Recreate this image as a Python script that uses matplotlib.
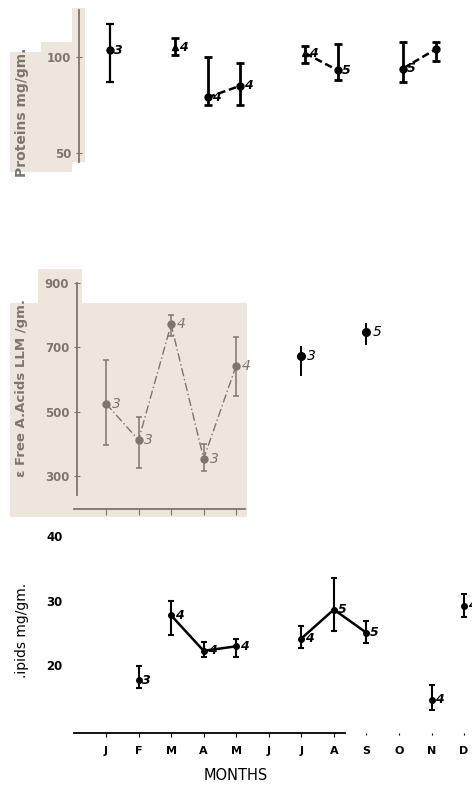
import matplotlib.pyplot as plt
from matplotlib.patches import Rectangle

W, H = 472, 789
STEP = 32.55  # px between months
BEIGE = '#ece6dd'
GREY = '#7d766e'

MONTHS = ['J', 'F', 'M', 'A', 'M', 'J', 'J', 'A', 'S', 'O', 'N', 'D']

# proteins mg/gm
prot_idx = [0, 2, 3, 4, 6, 7, 9, 10]
prot_mean = [103.5, 105, 79, 85, 102, 93, 94, 104]
prot_hi = [117, 110, 100, 97, 106, 107, 108, 108]
prot_lo = [87, 101, 75, 75, 97, 88, 87, 98]
prot_n = ['3', '4', '4', '4', '4', '5', '5', '']
prot_links = [(2, 3), (4, 5), (6, 7)]

# free amino acids
faa_idx = [0, 1, 2, 3, 4, 6, 8]
faa_mean = [525, 412, 771, 354, 643, 672, 746]
faa_hi = [661, 484, 800, 400, 732, 703, 776]
faa_lo = [396, 326, 735, 315, 548, 610, 708]
faa_n = ['3', '3', '4', '3', '4', '3', '5']
faa_grey = 5  # first five drawn grey

# lipids mg/gm
lip_idx = [1, 2, 3, 4, 6, 7, 8, 10, 11]
lip_mean = [17.6, 27.7, 22.2, 22.9, 24.1, 28.6, 25.0, 14.6, 29.2]
lip_hi = [19.8, 29.9, 23.6, 24.1, 26.0, 33.5, 26.8, 16.9, 31.0]
lip_lo = [16.4, 24.6, 21.2, 21.2, 22.7, 25.2, 23.4, 13.1, 27.4]
lip_n = ['3', '4', '4', '4', '4', '5', '5', '4', '4']
lip_links = [(1, 2, 3), (4, 5, 6)]


def box(x0, y0, x1, y1):
    return [x0 / W, 1 - y1 / H, (x1 - x0) / W, (y1 - y0) / H]


def px(p):
    return (p - 106) / STEP


def beige(x0, y0, x1, y1):
    fig.add_artist(Rectangle((x0 / W, 1 - y1 / H), (x1 - x0) / W, (y1 - y0) / H,
                             transform=fig.transFigure, color=BEIGE, zorder=0, lw=0))


def errbars(ax, idx, mean, lo, hi, color, lw, cap, marker='o', ms=5):
    for i, m, l, h in zip(idx, mean, lo, hi):
        ax.errorbar([i], [m], yerr=[[m - l], [h - m]], fmt=marker, color=color,
                    ms=ms, elinewidth=lw, capsize=cap, capthick=lw, zorder=3)


fig = plt.figure(figsize=(W / 100, H / 100), dpi=100)
fig.patch.set_facecolor('white')

# beige scan background
beige(72, 8, 85, 52)
beige(41, 42, 85, 52)
beige(10, 52, 85, 162)
beige(10, 162, 72, 172)
beige(38, 269, 82, 315)
beige(10, 303, 247, 517)
beige(82, 315, 247, 517)

# ---- proteins ----
ax1 = fig.add_axes(box(0, 10, 472, 162))
ax1.set_facecolor('none')
ax1.set_xlim(-110 / STEP, 362 / STEP)
ax1.set_ylim(45.3, 124.5)
for s in ['top', 'right', 'bottom']:
    ax1.spines[s].set_visible(False)
ax1.spines['left'].set_position(('data', (79 - 110) / STEP))
ax1.spines['left'].set_color(GREY)
ax1.spines['left'].set_linewidth(1.3)
ax1.set_xticks([])
ax1.set_yticks([50, 100])
ax1.tick_params(axis='y', direction='inout', length=5, color=GREY,
                labelcolor=GREY, labelsize=8.5, pad=3)
for t in ax1.get_yticklabels():
    t.set_fontweight('bold')
markers = ['o', '^', 'o', 'o', '^', 'o', 'o', 'o']
errbars(ax1, prot_idx[:1], prot_mean[:1], prot_lo[:1], prot_hi[:1], 'black', 1.6, 3)
for k in range(1, len(prot_idx)):
    errbars(ax1, [prot_idx[k]], [prot_mean[k]], [prot_lo[k]], [prot_hi[k]], 'black',
            2.0, 3, marker=markers[k])
for a, b in prot_links:
    ax1.plot([prot_idx[a], prot_idx[b]], [prot_mean[a], prot_mean[b]],
             color='black', ls=(0, (3, 1.5)), lw=1.8, zorder=2)
for i, m, n in zip(prot_idx, prot_mean, prot_n):
    ax1.text(i + 0.12, m, n, fontsize=9, fontweight='bold', style='italic',
             va='center', ha='left')
fig.text(22 / W, 1 - 112 / H, 'Proteins mg/gm.', rotation=90, color=GREY,
         fontsize=10, fontweight='semibold', ha='center', va='center')

# ---- free amino acids ----
ax2 = fig.add_axes(box(0, 270, 472, 509))
ax2.set_facecolor('none')
ax2.set_xlim(-106 / STEP, 366 / STEP)
ax2.set_ylim(197.7, 940)
for s in ['top', 'right']:
    ax2.spines[s].set_visible(False)
ax2.spines['left'].set_position(('data', px(77)))
ax2.spines['left'].set_bounds(240, 900)
ax2.spines['bottom'].set_bounds(px(74), px(245))
for s in ['left', 'bottom']:
    ax2.spines[s].set_color(GREY)
    ax2.spines[s].set_linewidth(1.3)
ax2.set_yticks([300, 500, 700, 900])
ax2.set_xticks(range(5))
ax2.set_xticklabels([])
ax2.tick_params(axis='y', direction='inout', length=5, color=GREY,
                labelcolor=GREY, labelsize=8.5, pad=3)
ax2.tick_params(axis='x', direction='out', length=4, color=GREY)
for t in ax2.get_yticklabels():
    t.set_fontweight('bold')
g = faa_grey
ax2.plot(faa_idx[:g], faa_mean[:g], color=GREY, ls=(0, (6, 2, 1, 2)), lw=1.0, zorder=2)
errbars(ax2, faa_idx[:g], faa_mean[:g], faa_lo[:g], faa_hi[:g], GREY, 1.1, 2.5, ms=5)
errbars(ax2, faa_idx[g:], faa_mean[g:], faa_lo[g:], faa_hi[g:], 'black', 1.4, 0, ms=5.5)
for k, (i, m, n) in enumerate(zip(faa_idx, faa_mean, faa_n)):
    c = GREY if k < g else 'black'
    ax2.text(i + 0.18, m, n, fontsize=10, color=c, style='italic',
             va='center', ha='left')
fig.text(22 / W, 1 - 388 / H, 'ε Free A.Acids LLM /gm.', rotation=90,
         color=GREY, fontsize=9.5, fontweight='bold', ha='center', va='center')

# ---- lipids ----
ax3 = fig.add_axes(box(0, 530, 472, 733))
ax3.set_facecolor('none')
ax3.set_xlim(-106 / STEP, 366 / STEP)
ax3.set_ylim(9.46, 40.93)
for s in ['top', 'right']:
    ax3.spines[s].set_visible(False)
ax3.spines['left'].set_position(('data', px(68)))
ax3.spines['left'].set_visible(False)
ax3.spines['bottom'].set_bounds(px(74), px(345))
ax3.spines['bottom'].set_linewidth(1.3)
ax3.set_yticks([20, 30, 40])
ax3.tick_params(axis='y', length=0, labelsize=8.5, pad=4)
ax3.set_xticks(range(12))
ax3.set_xticklabels(MONTHS)
ax3.tick_params(axis='x', direction='out', length=3, labelsize=8, pad=6)
for t in ax3.get_yticklabels() + ax3.get_xticklabels():
    t.set_fontweight('bold')
for k, tk in enumerate(ax3.xaxis.get_major_ticks()):
    if k > 7:
        tk.tick1line.set_markersize(1.5)
for grp in lip_links:
    ax3.plot([lip_idx[k] for k in grp], [lip_mean[k] for k in grp],
             color='black', lw=1.8, zorder=2)
errbars(ax3, lip_idx, lip_mean, lip_lo, lip_hi, 'black', 1.5, 2.5, ms=4)
for i, m, n in zip(lip_idx, lip_mean, lip_n):
    ax3.text(i + 0.12, m, n, fontsize=9, fontweight='bold', style='italic',
             va='center', ha='left')
ax3.set_xlabel('MONTHS', fontsize=10.5, labelpad=9)
fig.text(22 / W, 1 - 630 / H, '.ipids mg/gm.', rotation=90, color='black',
         fontsize=10, ha='center', va='center')

fig.savefig('out.png', dpi=100)
